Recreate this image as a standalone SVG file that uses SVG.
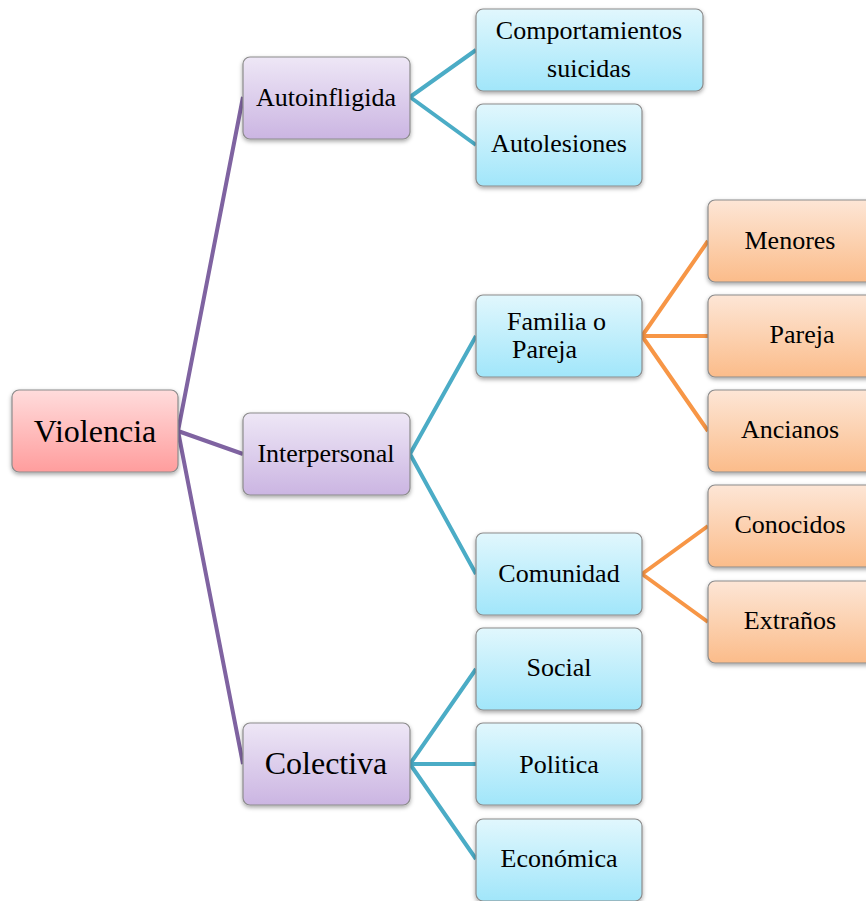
<svg xmlns="http://www.w3.org/2000/svg" width="866" height="901" viewBox="0 0 866 901">
<defs>
<linearGradient id="gRed" x1="0" y1="0" x2="0" y2="1"><stop offset="0" stop-color="#FFDCDC"/><stop offset="1" stop-color="#FF9D9D"/></linearGradient>
<linearGradient id="gPur" x1="0" y1="0" x2="0" y2="1"><stop offset="0" stop-color="#EEE7F6"/><stop offset="1" stop-color="#CBB5E2"/></linearGradient>
<linearGradient id="gBlu" x1="0" y1="0" x2="0" y2="1"><stop offset="0" stop-color="#E1F7FD"/><stop offset="1" stop-color="#A1E6FA"/></linearGradient>
<linearGradient id="gOra" x1="0" y1="0" x2="0" y2="1"><stop offset="0" stop-color="#FDE6D6"/><stop offset="1" stop-color="#FBBC8A"/></linearGradient>
<filter id="sh" x="-10%" y="-10%" width="120%" height="130%"><feDropShadow dx="0" dy="2" stdDeviation="2" flood-color="#000" flood-opacity="0.35"/></filter>
</defs>
<style>
.box{stroke:#8C8C8C;stroke-width:1.2;filter:url(#sh)}
.red{fill:url(#gRed)}.pur{fill:url(#gPur)}.blu{fill:url(#gBlu)}.ora{fill:url(#gOra)}
text{font-family:"Liberation Serif","Times New Roman",serif;fill:#000;font-size:26px}
.c{text-anchor:middle}
.big{font-size:32px}
.lp{stroke:#7F63A1;stroke-width:4;fill:none}
.lt{stroke:#4BACC6;stroke-width:4;fill:none}
.lo{stroke:#F79646;stroke-width:4;fill:none}
</style>
<rect width="866" height="901" fill="#fff"/>
<g id="connectors">
<path class="lp" d="M178 431L243 97M178 431L243 454M178 431L243 764"/>
<path class="lt" d="M410 97L476 50M410 97L476 145M410 454L476 336M410 454L476 574M410 764L476 669M410 764L476 764M410 764L476 859"/>
<path class="lo" d="M642 336L708 241M642 336L708 336M642 336L708 431M642 574L708 526M642 574L708 622"/>
</g>
<g id="violencia"><rect class="box red" x="12" y="390" width="166" height="82" rx="7"/><text class="c big" x="95" y="442">Violencia</text></g>
<g id="autoinfligida"><rect class="box pur" x="243" y="57" width="167" height="82" rx="7"/><text class="c" x="326" y="106">Autoinfligida</text></g>
<g id="interpersonal"><rect class="box pur" x="243" y="413" width="167" height="82" rx="7"/><text class="c" x="326" y="462">Interpersonal</text></g>
<g id="colectiva"><rect class="box pur" x="243" y="723" width="167" height="82" rx="7"/><text class="c big" x="326" y="774">Colectiva</text></g>
<g id="comportamientos"><rect class="box blu" x="476" y="9" width="227" height="82" rx="7"/><text class="c" x="589" y="39">Comportamientos</text><text class="c" x="589" y="77">suicidas</text></g>
<g id="autolesiones"><rect class="box blu" x="476" y="104" width="166" height="82" rx="7"/><text class="c" x="559" y="152">Autolesiones</text></g>
<g id="familia"><rect class="box blu" x="476" y="295" width="166" height="82" rx="7"/><text x="507" y="330">Familia o</text><text x="512" y="358">Pareja</text></g>
<g id="comunidad"><rect class="box blu" x="476" y="533" width="166" height="82" rx="7"/><text class="c" x="559" y="582">Comunidad</text></g>
<g id="social"><rect class="box blu" x="476" y="628" width="166" height="82" rx="7"/><text class="c" x="559" y="676">Social</text></g>
<g id="politica"><rect class="box blu" x="476" y="723" width="166" height="82" rx="7"/><text class="c" x="559" y="773">Politica</text></g>
<g id="economica"><rect class="box blu" x="476" y="819" width="166" height="82" rx="7"/><text class="c" x="559" y="867">Económica</text></g>
<g id="menores"><rect class="box ora" x="708" y="200" width="170" height="82" rx="7"/><text class="c" x="790" y="249">Menores</text></g>
<g id="pareja"><rect class="box ora" x="708" y="295" width="170" height="82" rx="7"/><text class="c" x="802" y="343">Pareja</text></g>
<g id="ancianos"><rect class="box ora" x="708" y="390" width="170" height="82" rx="7"/><text class="c" x="790" y="438">Ancianos</text></g>
<g id="conocidos"><rect class="box ora" x="708" y="485" width="170" height="82" rx="7"/><text class="c" x="790" y="533">Conocidos</text></g>
<g id="extranos"><rect class="box ora" x="708" y="581" width="170" height="82" rx="7"/><text class="c" x="790" y="629">Extraños</text></g>
</svg>
